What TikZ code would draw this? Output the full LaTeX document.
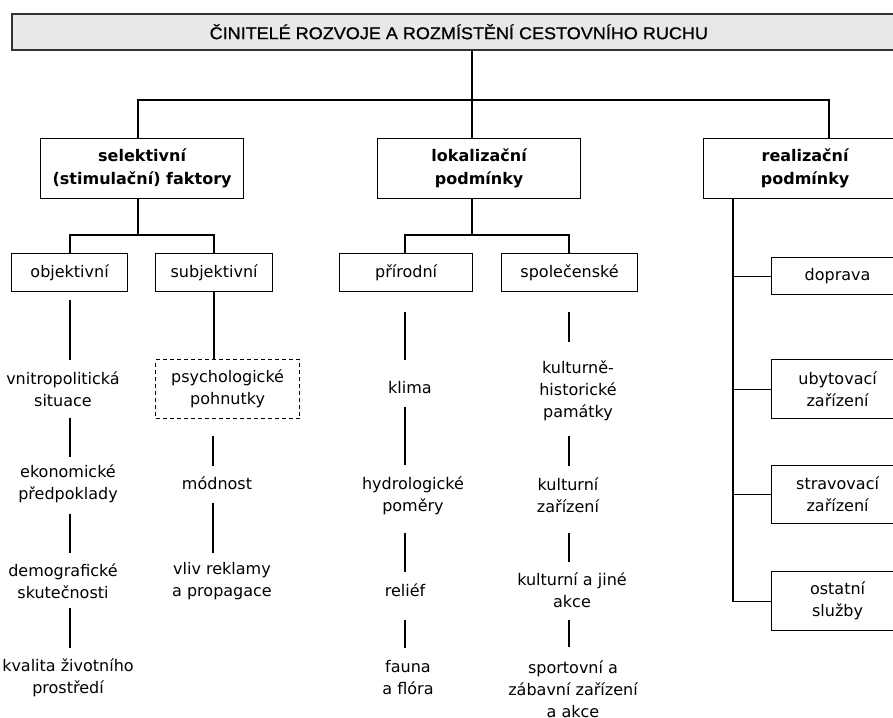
\documentclass[tikz,border=0pt]{standalone}
\usepackage{fontspec}
\setmainfont{DejaVu Sans}
\newfontfamily\titlefont[FakeStretch=1.06,FakeBold=0.8]{Liberation Sans}
\definecolor{titlefill}{HTML}{E8E8E8}
\definecolor{titleline}{HTML}{333333}
\newcommand\segline[4]{\coordinate (#1a) at (#2,#3); \coordinate (#1b) at (#2,#4); \draw[conn] (#1a) -- (#1b);}
\begin{document}
\begin{tikzpicture}[x=1pt,y=-1pt,
  conn/.style={line width=1.15pt},
  box/.style={draw, line width=1.2pt, inner sep=0pt, align=center, anchor=north west,
    font=\fontsize{16}{22}\selectfont},
  mainbox/.style={box, minimum width=203, minimum height=60, font=\bfseries\fontsize{16}{23}\selectfont},
  subbox/.style={box, minimum height=38},
  rbox/.style={box, minimum width=132},
  dbox/.style={box, dash pattern=on 4pt off 3pt},
  txt/.style={inner sep=0pt, align=center, font=\fontsize{16}{22}\selectfont}]
\useasboundingbox (0,0) rectangle (893,717);
\clip (0,0) rectangle (893,717);

% title
\node[draw=titleline, fill=titlefill, line width=1.6pt, anchor=north west,
  minimum width=894, minimum height=36, inner sep=0pt,
  font=\titlefont\fontsize{17}{20}\selectfont] (title) at (11,13)
  {ČINITELÉ ROZVOJE A ROZMÍSTĚNÍ CESTOVNÍHO RUCHU};

% level 1
\node[mainbox] (sel) at (40,138) {selektivní\\(stimulační) faktory};
\node[mainbox] (lok) at (377,138) {lokalizační\\podmínky};
\node[mainbox] (real) at (703,138) {realizační\\podmínky};

\coordinate (j0) at (472,100);
\coordinate (hL) at (138,100);
\coordinate (hR) at (829,100);
\draw[conn] (title.south -| j0) -- (lok.north -| j0);
\draw[conn] (hL |- sel.north) -- (hL) -- (hR) -- (hR |- real.north);

% level 2
\node[subbox, minimum width=116] (obj) at (11,253) {objektivní};
\node[subbox, minimum width=117] (subj) at (155,253) {subjektivní};
\node[subbox, minimum width=133] (pri) at (339,253) {přírodní};
\node[subbox, minimum width=136] (spol) at (501,253) {společenské};

\coordinate (s1) at (70,235);
\coordinate (s2) at (214,235);
\draw[conn] (hL |- sel.south) -- (hL |- s1);
\draw[conn] (s1 |- obj.north) -- (s1) -- (s2) -- (s2 |- subj.north);
\coordinate (p1) at (405,235);
\coordinate (p2) at (569,235);
\draw[conn] (j0 |- lok.south) -- (j0 |- p1);
\draw[conn] (p1 |- pri.north) -- (p1) -- (p2) -- (p2 |- spol.north);

% right column
\node[rbox, minimum height=37] (dop) at (771,257) {doprava};
\node[rbox, minimum height=59] (uby) at (771,359) {ubytovací\\zařízení};
\node[rbox, minimum height=58] (stra) at (771,465) {stravovací\\zařízení};
\node[rbox, minimum height=59] (ost) at (771,571) {ostatní\\služby};
\coordinate (rv) at (733,197);
\draw[conn] (rv |- real.south) -- (rv |- ost.west) -- (ost.west);
\draw[conn] (rv |- dop.west) -- (dop.west);
\draw[conn] (rv |- uby.west) -- (uby.west);
\draw[conn] (rv |- stra.west) -- (stra.west);

% objective column
\node[txt] (o1) at (63,389) {vnitropolitická\\situace};
\node[txt] (o2) at (68,484) {ekonomické\\předpoklady};
\node[txt] (o3) at (63,581) {demografické\\skutečnosti};
\node[txt] (o4) at (68,677.5) {kvalita životního\\prostředí};
\segline{oa}{70}{300}{360}
\segline{ob}{70}{418}{457}
\segline{oc}{70}{514}{553}
\segline{od}{70}{608}{648}

% subjective column
\node[dbox, minimum width=144, minimum height=59] (psy) at (155,359) {psychologické\\pohnutky};
\draw[conn] (subj.south -| s2) -- (psy.north -| s2);
\node[txt] (u2) at (217,483) {módnost};
\node[txt] (u3) at (222,581) {vliv reklamy\\a propagace};
\segline{ua}{213}{436}{466}
\segline{ub}{213}{503}{553}

% natural column
\node[txt] (n1) at (410,388) {klima};
\node[txt] (n2) at (413,495.5) {hydrologické\\poměry};
\node[txt] (n3) at (405,590) {reliéf};
\node[txt] (n4) at (408,677.5) {fauna\\a flóra};
\segline{na}{405}{312}{360}
\segline{nb}{405}{407}{465}
\segline{nc}{405}{533}{572}
\segline{nd}{405}{620}{648}

% social column
\node[txt] (c1) at (578,390.5) {kulturně-\\historické\\památky};
\node[txt] (c2) at (568,495) {kulturní\\zařízení};
\node[txt] (c3) at (572,590.5) {kulturní a jiné\\akce};
\node[txt] (c4) at (573,689) {sportovní a\\zábavní zařízení\\a akce};
\segline{ca}{569}{312}{342}
\segline{cb}{569}{436}{466}
\segline{cc}{569}{533}{562}
\segline{cd}{569}{620}{647}
\end{tikzpicture}
\end{document}
